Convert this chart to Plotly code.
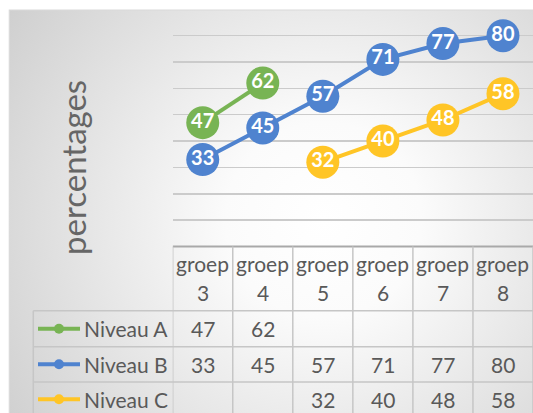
import base64
import plotly.graph_objects as go

# ---------------- data ----------------
categories = ["groep 3", "groep 4", "groep 5", "groep 6", "groep 7", "groep 8"]
series_names = ["Niveau A", "Niveau B", "Niveau C"]
niveau_a = [47, 62, None, None, None, None]
niveau_b = [33, 45, 57, 71, 77, 80]
niveau_c = [None, None, 32, 40, 48, 58]
series_values = [niveau_a, niveau_b, niveau_c]
y_title = "percentages"

# ---------------- style ----------------
colors = ["#78B454", "#4F83CF", "#FFC526"]
FONT = "Lato"
TXT = "#595959"
W, H = 533, 413


def fx(p):
    return p / W


def fy(p):
    return 1 - p / H


plot_left, plot_right = 172.7, 533.0
plot_top, plot_bottom = 9.3, 246.5
row_lines = [310.7, 346.7, 382.0]
row_centers = [328.7, 364.3, 399.3]
legend_left = 33.3

# background gradient (chart area)
svg = f"""<svg xmlns='http://www.w3.org/2000/svg' width='{W}' height='{H}' viewBox='0 0 {W} {H}'>
<defs><radialGradient id='g' gradientUnits='userSpaceOnUse' cx='320' cy='215' r='400'>
<stop offset='0' stop-color='#ffffff'/><stop offset='0.25' stop-color='#fbfbfb'/><stop offset='1' stop-color='#cdcdcd'/></radialGradient></defs>
<rect x='0' y='0' width='{W}' height='{H}' fill='url(#g)'/></svg>"""
bg_uri = "data:image/svg+xml;base64," + base64.b64encode(svg.encode()).decode()

fig = go.Figure()
for name, vals, col in zip(series_names, series_values, colors):
    fig.add_trace(go.Scatter(
        x=categories, y=vals, name=name, mode="lines+markers+text",
        line=dict(color=col, width=4),
        marker=dict(color=col, size=33),
        text=[("" if v is None else str(v)) for v in vals],
        textposition="middle center",
        textfont=dict(family=FONT, size=20, color="white", weight="bold"),
        connectgaps=False, showlegend=False, cliponaxis=False,
        hoverinfo="skip",
    ))

shapes = []
annotations = []

# chart area border
shapes.append(dict(type="rect", xref="paper", yref="paper", x0=fx(9.3), x1=1.02,
                   y0=-0.02, y1=fy(10), line=dict(color="#d9d9d9", width=1.2),
                   fillcolor="rgba(0,0,0,0)", layer="below"))

# table: header top line (axis)
shapes.append(dict(type="line", xref="x", yref="paper", x0=-0.5, x1=len(categories) - 0.5,
                   y0=fy(plot_bottom), y1=fy(plot_bottom), line=dict(color="#a9a9a9", width=2)))
# table vertical lines at category boundaries
for k in range(len(categories) + 1):
    shapes.append(dict(type="line", xref="x", yref="paper", x0=k - 0.5, x1=k - 0.5,
                       y0=fy(plot_bottom), y1=0, line=dict(color="#c6c6c6", width=1.5)))
# legend column left line
shapes.append(dict(type="line", xref="paper", yref="paper", x0=fx(legend_left), x1=fx(legend_left),
                   y0=fy(row_lines[0]), y1=0, line=dict(color="#c6c6c6", width=1.5)))
# row lines
for r in row_lines:
    shapes.append(dict(type="line", xref="paper", yref="paper", x0=fx(legend_left), x1=1,
                       y0=fy(r), y1=fy(r), line=dict(color="#c6c6c6", width=1.5)))

# header labels
for c in categories:
    w1, w2 = c.split(" ")
    annotations.append(dict(x=c, xref="x", y=fy(263), yref="paper", text=w1, showarrow=False,
                            font=dict(family=FONT, size=21, color=TXT), xanchor="center", yanchor="middle"))
    annotations.append(dict(x=c, xref="x", y=fy(292), yref="paper", text=w2, showarrow=False,
                            font=dict(family=FONT, size=21, color=TXT), xanchor="center", yanchor="middle"))

# rows: legend keys + values
for name, vals, col, yc in zip(series_names, series_values, colors, row_centers):
    shapes.append(dict(type="line", xref="paper", yref="paper", x0=fx(38), x1=fx(80),
                       y0=fy(yc), y1=fy(yc), line=dict(color=col, width=4)))
    shapes.append(dict(type="circle", xref="paper", yref="paper", x0=fx(54), x1=fx(64),
                       y0=fy(yc + 5), y1=fy(yc - 5), line=dict(color=col, width=0), fillcolor=col))
    annotations.append(dict(x=fx(82), xref="paper", y=fy(yc), yref="paper", text=name, showarrow=False,
                            font=dict(family=FONT, size=21, color=TXT), xanchor="left", yanchor="middle"))
    for c, v in zip(categories, vals):
        if v is None:
            continue
        annotations.append(dict(x=c, xref="x", y=fy(yc), yref="paper", text=str(v), showarrow=False,
                                font=dict(family=FONT, size=21, color=TXT), xanchor="center", yanchor="middle"))

# axis title
annotations.append(dict(x=fx(73), xref="paper", y=fy(168), yref="paper", text=y_title, textangle=-90,
                        showarrow=False, font=dict(family=FONT, size=33, color="#666666"),
                        xanchor="center", yanchor="middle"))

fig.update_layout(
    width=W, height=H,
    margin=dict(l=0, r=0, t=0, b=0),
    paper_bgcolor="white", plot_bgcolor="rgba(0,0,0,0)",
    images=[dict(source=bg_uri, xref="paper", yref="paper", x=fx(9.3), y=fy(10),
                 sizex=1 - fx(9.3), sizey=fy(10), sizing="stretch", layer="below",
                 xanchor="left", yanchor="top")],
    xaxis=dict(domain=[fx(plot_left), 1], range=[-0.5, len(categories) - 0.5], type="category",
               showticklabels=False, showgrid=False, zeroline=False, showline=False, ticks=""),
    yaxis=dict(domain=[fy(plot_bottom), fy(plot_top)], range=[0, 90], dtick=10,
               showticklabels=False, showgrid=True, gridcolor="#cbcbcb", gridwidth=1.5,
               zeroline=False, showline=False, ticks=""),
    shapes=shapes, annotations=annotations,
    font=dict(family=FONT, color=TXT),
    hovermode=False,
)

fig.write_html(
    "out.html",
    config={"displayModeBar": False, "staticPlot": True},
    post_script="document.body.style.margin='0';document.body.style.overflow='hidden';",
)
